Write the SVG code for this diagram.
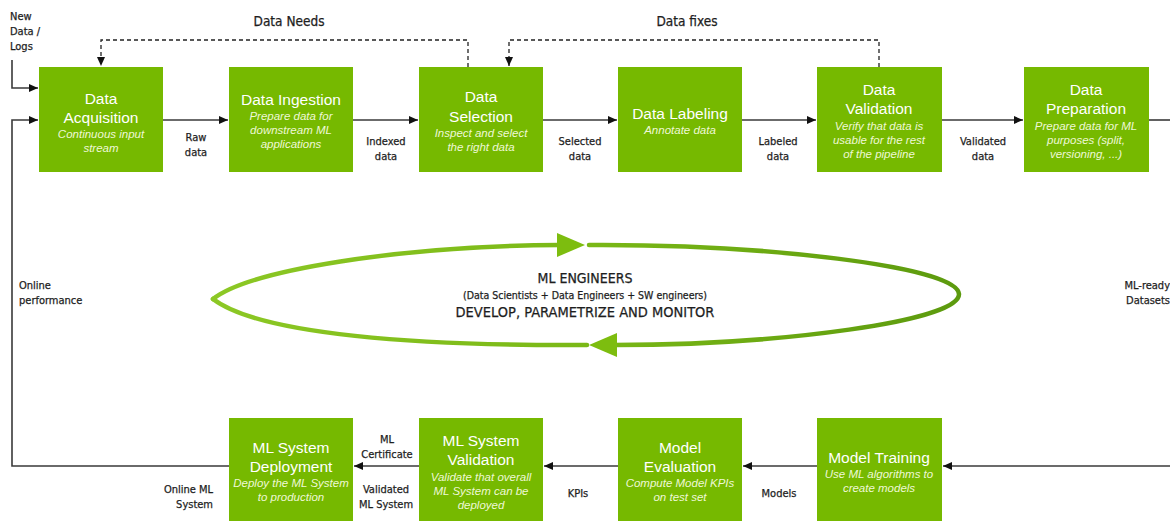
<svg xmlns="http://www.w3.org/2000/svg" width="1170" height="521" viewBox="0 0 1170 521">
<defs>
<style>
.box{fill:#76b900;}
.t{font-family:"Liberation Sans",Arial,sans-serif;font-size:15.5px;fill:#ffffff;text-anchor:middle;}
.s{font-family:"Liberation Sans",Arial,sans-serif;font-size:11.5px;font-style:italic;fill:#eef8d6;text-anchor:middle;}
.l{font-family:"DejaVu Sans",sans-serif;font-stretch:condensed;font-size:11px;fill:#1e1e1e;stroke:#1e1e1e;stroke-width:0.25;}
.c{text-anchor:middle;}
.r{text-anchor:end;}
.h{font-family:"DejaVu Sans",sans-serif;font-stretch:condensed;font-size:13.5px;fill:#1e1e1e;stroke:#1e1e1e;stroke-width:0.25;text-anchor:middle;}
.m{font-family:"DejaVu Sans",sans-serif;font-stretch:condensed;fill:#1e1e1e;stroke:#1e1e1e;stroke-width:0.25;text-anchor:middle;}
.ln{fill:none;stroke:#3a3a3a;stroke-width:1.6;}
.dash{fill:none;stroke:#222222;stroke-width:1.3;stroke-dasharray:4 3;}
.loop{fill:none;stroke:url(#eg);stroke-width:4.5;stroke-linecap:round;}
</style>
<marker id="ah" markerWidth="9" markerHeight="8" refX="9" refY="4" orient="auto" markerUnits="userSpaceOnUse">
<path d="M0,0 L9,4 L0,8 Z" fill="#111111"/>
</marker>
<linearGradient id="eg" gradientUnits="userSpaceOnUse" x1="213" y1="0" x2="960" y2="0">
<stop offset="0" stop-color="#8cc825"/>
<stop offset="0.5" stop-color="#7ab816"/>
<stop offset="1" stop-color="#5c9a0e"/>
</linearGradient>
</defs>

<g id="connectors">
<path class="ln" d="M12,60 V88 H38" marker-end="url(#ah)"/>
<path class="ln" d="M229,466 H12 V120 H38" marker-end="url(#ah)"/>
<path class="ln" d="M163,120 H228" marker-end="url(#ah)"/>
<path class="ln" d="M353,120 H418" marker-end="url(#ah)"/>
<path class="ln" d="M543,120 H617" marker-end="url(#ah)"/>
<path class="ln" d="M742,120 H816" marker-end="url(#ah)"/>
<path class="ln" d="M942,120 H1023" marker-end="url(#ah)"/>
<path class="ln" d="M1149,120 H1172"/>
<path class="ln" d="M1172,466 H943" marker-end="url(#ah)"/>
<path class="ln" d="M817,466 H743" marker-end="url(#ah)"/>
<path class="ln" d="M618,466 H544" marker-end="url(#ah)"/>
<path class="ln" d="M419,466 H354" marker-end="url(#ah)"/>
<path class="dash" d="M468,67 V40 H101 V66" marker-end="url(#ah)"/>
<path class="dash" d="M879,67 V40 H509 V66" marker-end="url(#ah)"/>
</g>

<g id="labels">
<text class="l" x="10" y="20">New</text>
<text class="l" x="10" y="35">Data /</text>
<text class="l" x="10" y="50">Logs</text>
<text class="h" x="289" y="26">Data Needs</text>
<text class="h" x="687" y="26">Data fixes</text>
<text class="l c" x="196" y="141">Raw</text>
<text class="l c" x="196" y="156">data</text>
<text class="l c" x="386" y="145">Indexed</text>
<text class="l c" x="386" y="160">data</text>
<text class="l c" x="580" y="145">Selected</text>
<text class="l c" x="580" y="160">data</text>
<text class="l c" x="778" y="145">Labeled</text>
<text class="l c" x="778" y="160">data</text>
<text class="l c" x="983" y="145">Validated</text>
<text class="l c" x="983" y="160">data</text>
<text class="l" x="19" y="289">Online</text>
<text class="l" x="19" y="304">performance</text>
<text class="l r" x="1170" y="289">ML-ready</text>
<text class="l r" x="1170" y="304">Datasets</text>
<text class="l r" x="213" y="493">Online ML</text>
<text class="l r" x="213" y="508">System</text>
<text class="l c" x="387" y="443">ML</text>
<text class="l c" x="387" y="458">Certificate</text>
<text class="l c" x="386" y="493">Validated</text>
<text class="l c" x="386" y="508">ML System</text>
<text class="l c" x="578" y="497">KPIs</text>
<text class="l c" x="779" y="497">Models</text>
</g>

<g id="loop">
<path class="loop" d="M213,299 C250,270 400,246 560,245"/>
<path class="loop" d="M589,245 C760,244 957,266 959,294 C960,321 780,345 614,345"/>
<path class="loop" d="M587,345 C420,346 260,335 213,299"/>
<polygon points="585,245 557,233 557,257" fill="#7dbd0f"/>
<polygon points="589,345 617,333 617,357" fill="#7dbd0f"/>
<text class="m" x="585" y="283" font-size="14">ML ENGINEERS</text>
<text class="m" x="585" y="299" font-size="10.5">(Data Scientists + Data Engineers + SW engineers)</text>
<text class="m" x="585" y="317" font-size="14.5">DEVELOP, PARAMETRIZE AND MONITOR</text>
</g>

<g id="data-acquisition">
<rect class="box" x="39" y="67" width="124" height="105"/>
<text class="t" x="101" y="104">Data</text>
<text class="t" x="101" y="123">Acquisition</text>
<text class="s" x="101" y="138">Continuous input</text>
<text class="s" x="101" y="152">stream</text>
</g>
<g id="data-ingestion">
<rect class="box" x="229" y="67" width="124" height="105"/>
<text class="t" x="291" y="105">Data Ingestion</text>
<text class="s" x="291" y="120">Prepare data for</text>
<text class="s" x="291" y="134">downstream ML</text>
<text class="s" x="291" y="148">applications</text>
</g>
<g id="data-selection">
<rect class="box" x="419" y="67" width="124" height="105"/>
<text class="t" x="481" y="102">Data</text>
<text class="t" x="481" y="122">Selection</text>
<text class="s" x="481" y="137">Inspect and select</text>
<text class="s" x="481" y="151">the right data</text>
</g>
<g id="data-labeling">
<rect class="box" x="618" y="67" width="124" height="105"/>
<text class="t" x="680" y="119">Data Labeling</text>
<text class="s" x="680" y="134">Annotate data</text>
</g>
<g id="data-validation">
<rect class="box" x="817" y="67" width="125" height="105"/>
<text class="t" x="879" y="95">Data</text>
<text class="t" x="879" y="114">Validation</text>
<text class="s" x="879" y="130">Verify that data is</text>
<text class="s" x="879" y="144">usable for the rest</text>
<text class="s" x="879" y="158">of the pipeline</text>
</g>
<g id="data-preparation">
<rect class="box" x="1024" y="67" width="125" height="105"/>
<text class="t" x="1086" y="95">Data</text>
<text class="t" x="1086" y="114">Preparation</text>
<text class="s" x="1086" y="130">Prepare data for ML</text>
<text class="s" x="1086" y="144">purposes (split,</text>
<text class="s" x="1086" y="158">versioning, ...)</text>
</g>

<g id="ml-system-deployment">
<rect class="box" x="229" y="418" width="124" height="110"/>
<text class="t" x="291" y="453">ML System</text>
<text class="t" x="291" y="472">Deployment</text>
<text class="s" x="291" y="487">Deploy the ML System</text>
<text class="s" x="291" y="501">to production</text>
</g>
<g id="ml-system-validation">
<rect class="box" x="419" y="418" width="124" height="110"/>
<text class="t" x="481" y="446">ML System</text>
<text class="t" x="481" y="465">Validation</text>
<text class="s" x="481" y="481">Validate that overall</text>
<text class="s" x="481" y="495">ML System can be</text>
<text class="s" x="481" y="509">deployed</text>
</g>
<g id="model-evaluation">
<rect class="box" x="618" y="418" width="124" height="110"/>
<text class="t" x="680" y="453">Model</text>
<text class="t" x="680" y="472">Evaluation</text>
<text class="s" x="680" y="487">Compute Model KPIs</text>
<text class="s" x="680" y="501">on test set</text>
</g>
<g id="model-training">
<rect class="box" x="817" y="418" width="125" height="110"/>
<text class="t" x="879" y="463">Model Training</text>
<text class="s" x="879" y="478">Use ML algorithms to</text>
<text class="s" x="879" y="492">create models</text>
</g>
</svg>
